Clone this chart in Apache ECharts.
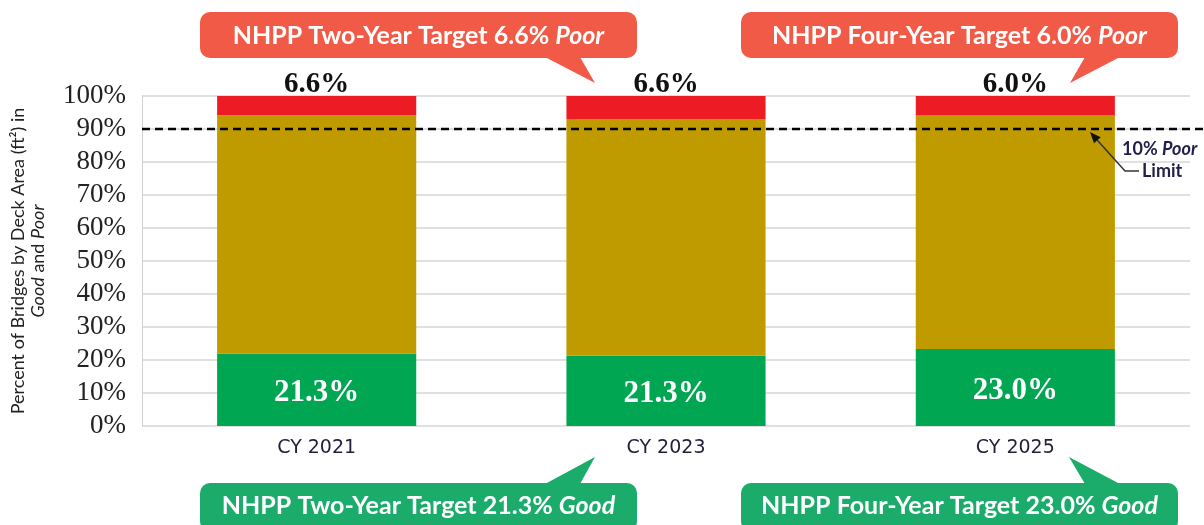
<!DOCTYPE html>
<html lang="en">
<head>
<meta charset="UTF-8">
<title>NHPP Bridge Targets</title>
<script src="https://cdnjs.cloudflare.com/ajax/libs/echarts/6.0.0/echarts.min.js"></script>
<style>
  html, body { margin: 0; padding: 0; background: #fff; }
  #main { width: 1204px; height: 525px; }
</style>
</head>
<body>
<div id="main"></div>
<script>
// chart data
const categories = ['CY 2021', 'CY 2023', 'CY 2025'];
const goodValues = [22.0, 21.4, 23.3];
const fairValues = [72.2, 71.6, 70.8];
const poorValues = [5.8, 7.0, 5.9];
const goodLabels = ['21.3%', '21.3%', '23.0%'];
const poorLabels = ['6.6%', '6.6%', '6.0%'];
const poorLimit = 90;
const poorTargets = ['NHPP Two-Year Target 6.6% {i|Poor}', 'NHPP Four-Year Target 6.0% {i|Poor}'];
const goodTargets = ['NHPP Two-Year Target 21.3% {i|Good}', 'NHPP Four-Year Target 23.0% {i|Good}'];

const chart = echarts.init(document.getElementById('main'));

const serif = '"Liberation Serif", serif';
const sans = 'Lato, "Open Sans", sans-serif';
const RED_BOX = '#f15a47';
const GREEN_BOX = '#1bab6b';

function callout(text, color, box, tail, textY) {
    return [
        {
            type: 'rect',
            shape: { x: box[0], y: box[1], width: box[2], height: box[3], r: 10 },
            style: { fill: color }
        },
        {
            type: 'polygon',
            shape: { points: tail },
            style: { fill: color }
        },
        {
            type: 'text',
            x: box[0] + box[2] / 2,
            y: textY,
            style: {
                text: text,
                fill: '#fff',
                font: 'bold 25px ' + sans,
                align: 'center',
                verticalAlign: 'middle',
                rich: {
                    i: { fontStyle: 'italic', fontWeight: 'bold', fontSize: 25, fontFamily: sans, fill: '#fff' }
                }
            }
        }
    ];
}

const option = {
    animation: false,
    grid: { left: 142, right: 14, top: 96, bottom: 99 },
    xAxis: {
        type: 'category',
        data: categories,
        axisLine: { show: false },
        axisTick: { show: false },
        axisLabel: { margin: 13, fontSize: 19, fontFamily: '"DejaVu Sans", sans-serif', color: '#1f1f3a' }
    },
    yAxis: {
        type: 'value',
        min: 0,
        max: 100,
        interval: 10,
        axisLine: { show: true, lineStyle: { color: '#d0d0d0' } },
        axisTick: { show: false },
        splitLine: { lineStyle: { color: '#d6d6d6', width: 1.5 } },
        axisLabel: { formatter: '{value}%', fontSize: 27, fontFamily: serif, color: '#222', margin: 16 },
        name: 'Percent of Bridges by Deck Area (ft²) in\n{i|Good} and {i|Poor}',
        nameLocation: 'middle',
        nameRotate: 90,
        nameGap: 94,
        nameTextStyle: {
            fontSize: 18,
            fontFamily: sans,
            color: '#222',
            lineHeight: 20,
            rich: { i: { fontStyle: 'italic', fontSize: 18, fontFamily: sans, color: '#222' } }
        }
    },
    series: [
        {
            name: 'Good',
            type: 'bar',
            stack: 'all',
            barWidth: '57%',
            data: goodValues,
            itemStyle: { color: '#00a651' },
            label: {
                show: true,
                position: 'inside',
                offset: [0, 3],
                formatter: (p) => goodLabels[p.dataIndex],
                color: '#fff',
                fontSize: 31,
                fontWeight: 'bold',
                fontFamily: serif
            }
        },
        {
            name: 'Fair',
            type: 'bar',
            stack: 'all',
            data: fairValues,
            itemStyle: { color: '#bf9b00' }
        },
        {
            name: 'Poor',
            type: 'bar',
            stack: 'all',
            data: poorValues,
            itemStyle: { color: '#ed1c24' },
            label: {
                show: true,
                position: 'top',
                distance: -3,
                formatter: (p) => poorLabels[p.dataIndex],
                color: '#111',
                fontSize: 29,
                fontWeight: 'bold',
                fontFamily: serif
            }
        }
    ]
};

chart.setOption(option);

// limit line + callouts
const yLimit = chart.convertToPixel({ yAxisIndex: 0 }, poorLimit);
const tipX = 1090, tipY = yLimit + 3;
const elbowX = 1125, elbowY = yLimit + 42;
const dx = tipX - elbowX, dy = tipY - elbowY;
const len = Math.sqrt(dx * dx + dy * dy);
const ux = dx / len, uy = dy / len;
const bx = tipX - ux * 11, by = tipY - uy * 11;

let graphics = [
    {
        type: 'line',
        shape: { x1: 142, y1: yLimit, x2: 1204, y2: yLimit },
        style: { stroke: '#000', lineWidth: 2.5, lineDash: [8, 5] },
        z: 10
    },
    {
        type: 'polyline',
        shape: { points: [[bx, by], [elbowX, elbowY], [1139, elbowY]] },
        style: { stroke: '#333', lineWidth: 1.5, fill: null },
        z: 10
    },
    {
        type: 'polygon',
        shape: { points: [[tipX, tipY], [bx - uy * 4.5, by + ux * 4.5], [bx + uy * 4.5, by - ux * 4.5]] },
        style: { fill: '#111' },
        z: 10
    },
    {
        type: 'text',
        x: 1122,
        y: yLimit + 20,
        style: {
            text: '10% {i|Poor}',
            font: 'bold 18px ' + sans,
            fill: '#1f1f4a',
            verticalAlign: 'middle',
            rich: { i: { fontStyle: 'italic', fontWeight: 'bold', fontSize: 18, fontFamily: sans, fill: '#1f1f4a' } }
        },
        z: 10
    },
    {
        type: 'text',
        x: 1142,
        y: yLimit + 42,
        style: { text: 'Limit', font: 'bold 18px ' + sans, fill: '#1f1f4a', verticalAlign: 'middle' },
        z: 10
    }
];

graphics = graphics
    .concat(callout(poorTargets[0], RED_BOX, [200, 12, 437, 46], [[545, 57], [595, 83], [580, 57]], 36))
    .concat(callout(poorTargets[1], RED_BOX, [741, 12, 437, 46], [[1085, 57], [1070, 83], [1120, 57]], 36))
    .concat(callout(goodTargets[0], GREEN_BOX, [200, 483, 437, 48], [[545, 484], [595, 457], [580, 484]], 506))
    .concat(callout(goodTargets[1], GREEN_BOX, [741, 483, 437, 48], [[1085, 484], [1069, 457], [1120, 484]], 506));

chart.setOption({ graphic: graphics });
</script>
</body>
</html>
